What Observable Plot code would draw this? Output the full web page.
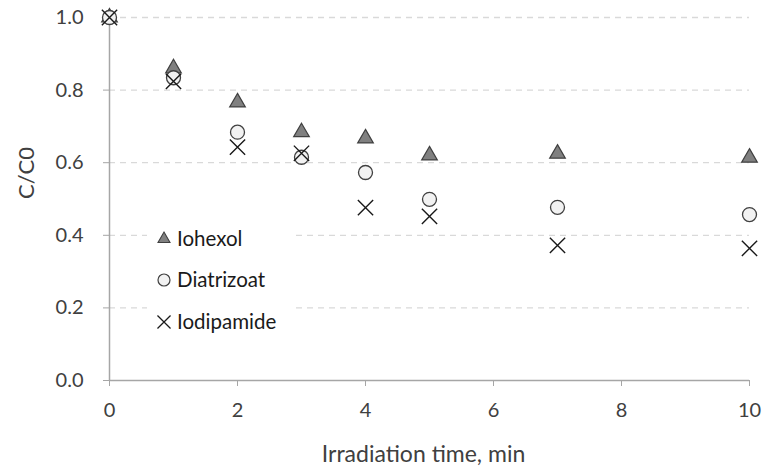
<!DOCTYPE html>
<html>
<head>
<meta charset="utf-8">
<script src="https://cdn.jsdelivr.net/npm/d3@7"></script>
<script src="https://cdn.jsdelivr.net/npm/@observablehq/plot@0.6"></script>
<style>
  html, body { margin: 0; padding: 0; background: #fff; }
  #wrap { position: relative; width: 771px; height: 472px; }
  #legend { position: absolute; left: 147px; top: 220px; }
</style>
</head>
<body>
<div id="wrap"></div>
<script>
// ---- data ----
const time = [0, 1, 2, 3, 4, 5, 7, 10];
const iohexol = [1.0, 0.86, 0.766, 0.684, 0.667, 0.62, 0.625, 0.614];
const diatrizoat = [1.0, 0.834, 0.684, 0.615, 0.573, 0.499, 0.477, 0.457];
const iodipamide = [1.0, 0.824, 0.643, 0.626, 0.476, 0.452, 0.372, 0.364];
const seriesNames = ["Iohexol", "Diatrizoat", "Iodipamide"];
const xTicks = [0, 2, 4, 6, 8, 10];
const yTicks = [0, 0.2, 0.4, 0.6, 0.8, 1.0];
const xLabel = "Irradiation time, min";
const yLabel = "C/C0";

const FONT = "Lato, 'Open Sans', sans-serif";
const toRows = vals => time.map((t, i) => ({t, v: vals[i]}));

const chart = Plot.plot({
  width: 771,
  height: 472,
  marginTop: 17,
  marginBottom: 92,
  marginLeft: 109,
  marginRight: 22,
  style: {fontFamily: FONT, fontSize: "20px", color: "#404040", background: "white"},
  x: {domain: [0, 10]},
  y: {domain: [0, 1]},
  marks: [
    Plot.ruleY(yTicks.filter(d => d > 0), {x1: 0, x2: 10, stroke: "#d9d9d9", strokeWidth: 1.3, strokeDasharray: "6,5"}),
    Plot.axisX({ticks: xTicks, tickFormat: d => String(d), tickSize: 6, tickPadding: 16, fontSize: 20, stroke: "#a6a6a6", fill: "#404040", label: null}),
    Plot.axisY({ticks: yTicks, tickFormat: d => d.toFixed(1), tickSize: 6, tickPadding: 20, fontSize: 20, stroke: "#a6a6a6", fill: "#404040", label: null}),
    Plot.ruleY([0], {stroke: "#a6a6a6", strokeWidth: 1.5}),
    Plot.ruleX([0], {stroke: "#a6a6a6", strokeWidth: 1.5}),
    Plot.dot(toRows(iohexol), {x: "t", y: "v", symbol: "triangle", r: 5.8, fill: "#808080", stroke: "#404040", strokeWidth: 1.2}),
    Plot.dot(toRows(diatrizoat), {x: "t", y: "v", symbol: "circle", r: 7, fill: "#f2f2f2", stroke: "#404040", strokeWidth: 1.3}),
    Plot.dot(toRows(iodipamide), {x: "t", y: "v", symbol: "times", r: 7, stroke: "#1a1a1a", strokeWidth: 1.4}),
    Plot.text([xLabel], {frameAnchor: "bottom", dy: 81, dx: -6, fontSize: 23, fill: "#404040"}),
    Plot.text([yLabel], {frameAnchor: "left", dx: -83, rotate: -90, fontSize: 22, fill: "#404040"})
  ]
});
document.getElementById("wrap").appendChild(chart);

// ---- legend overlay ----
const lw = 145, lh = 120;
const leg = d3.select("#wrap").append("svg")
  .attr("id", "legend").attr("width", lw).attr("height", lh)
  .style("font-family", FONT);
leg.append("rect").attr("width", lw).attr("height", lh).attr("fill", "white");
const legSym = [
  {sym: d3.symbolTriangle, size: 62, fill: "#808080", stroke: "#404040", sw: 1.1},
  {sym: d3.symbolCircle, size: Math.PI * 36, fill: "#f2f2f2", stroke: "#404040", sw: 1.2},
  {sym: d3.symbolTimes, size: Math.PI * 36, fill: "none", stroke: "#1a1a1a", sw: 1.3}
];
const rowY = [19, 60, 102];
seriesNames.forEach((name, i) => {
  const g = leg.append("g").attr("transform", `translate(17,${rowY[i]})`);
  g.append("path").attr("d", d3.symbol(legSym[i].sym, legSym[i].size)())
    .attr("fill", legSym[i].fill).attr("stroke", legSym[i].stroke).attr("stroke-width", legSym[i].sw);
  g.append("text").attr("x", 13).attr("dy", "0.35em").attr("font-size", 20.5).attr("fill", "#1a1a1a").text(name);
});
</script>
</body>
</html>
